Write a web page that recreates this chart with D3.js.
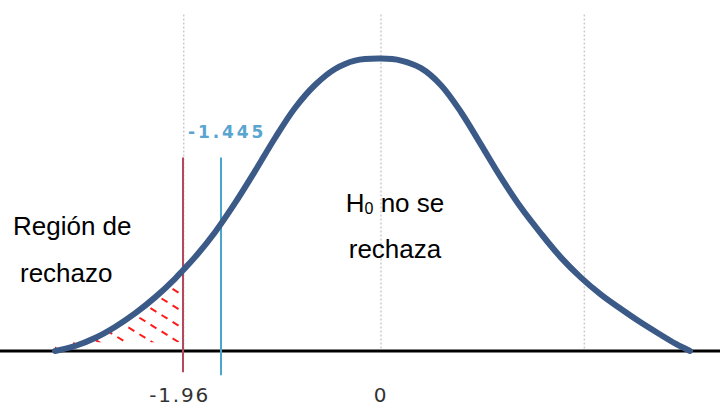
<!DOCTYPE html>
<html><head><meta charset="utf-8">
<script src="https://cdn.jsdelivr.net/npm/d3@7"></script>
<style>body{margin:0;background:#fff}</style>
</head><body><svg id="c" width="720" height="408"></svg>
<script>
// ---- data ----
const curveZ = [-3.200,-3.006,-2.813,-2.619,-2.425,-2.231,-2.038,-1.96,-1.797,-1.526,-1.319,-1.138,-0.957,-0.777,-0.596,-0.415,-0.235,0,
  0.201,0.401,0.602,0.803,1.003,1.204,1.404,1.605,1.806,2.006,2.207,2.408,2.608,2.809,2.959,3.100];
const curveDensity = [0,0.0068,0.0177,0.0328,0.0513,0.0732,0.0986,0.1103,0.1281,0.1622,0.2018,0.2455,0.2908,0.3317,0.3631,0.3850,0.3965,0.3992,
  0.3965,0.3861,0.3629,0.3260,0.2818,0.2367,0.1958,0.1603,0.1275,0.1002,0.0770,0.0573,0.0388,0.0218,0.0096,0];
const criticalValue = -1.96;
const observedValue = -1.445;
const observedLabel = "-1.445";
const gridValues = [-1.95, 0, 2.04];
const tickValues = [-1.96, 0];
const tickLabels = ["-1.96", "0"];
const rejectLabel = ["Región de", "rechazo"];
const acceptLabel = ["H", "0", " no se", "rechaza"];

// ---- scales ----
const W = 720, H = 408;
const x = d3.scaleLinear().domain([-3.2, -1.96, -1.445, 0, 3.1]).range([55, 183, 221, 381, 690]);
const y = d3.scaleLinear().domain([0, 0.4]).range([351, 58]);

const svg = d3.select("#c");
const pts = curveZ.map((z, i) => ({z, d: curveDensity[i]}));

// gridlines
svg.append("g").selectAll("line").data(gridValues).join("line")
  .attr("x1", d => x(d)).attr("x2", d => x(d))
  .attr("y1", y(0.4595)).attr("y2", y(0))
  .attr("stroke", "#cccccc").attr("stroke-width", 1.5).attr("stroke-dasharray", "2,2");

// hatched rejection region
const tail = pts.filter(p => p.z <= criticalValue + 1e-9);
const area = d3.area().x(p => x(p.z)).y0(y(0.012)).y1(p => y(p.d)).curve(d3.curveCatmullRom.alpha(0.5));
svg.append("clipPath").attr("id", "tailclip").append("path").attr("d", area(tail));
const hg = svg.append("g").attr("clip-path", "url(#tailclip)");
const slope = 0.62, step = 14 / Math.cos(Math.atan(slope));
const cMin = 240 - slope * 200, cMax = 360 - slope * 40;
hg.selectAll("line").data(d3.range(cMin, cMax, step)).join("line")
  .attr("x1", 40).attr("y1", c => c + slope * 40)
  .attr("x2", 200).attr("y2", c => c + slope * 200)
  .attr("stroke", "#ff1a1a").attr("stroke-width", 2).attr("stroke-dasharray", "7,6");

// baseline
svg.append("line").attr("x1", 0).attr("x2", W).attr("y1", y(0)).attr("y2", y(0))
  .attr("stroke", "#000").attr("stroke-width", 3);

// critical and observed lines
svg.append("line").attr("x1", x(criticalValue)).attr("x2", x(criticalValue))
  .attr("y1", y(0.264)).attr("y2", y(-0.029))
  .attr("stroke", "#b4485c").attr("stroke-width", 2);
svg.append("line").attr("x1", x(observedValue)).attr("x2", x(observedValue))
  .attr("y1", y(0.264)).attr("y2", y(-0.033))
  .attr("stroke", "#4aa6cc").attr("stroke-width", 2);

// curve
const line = d3.line().x(p => x(p.z)).y(p => y(p.d)).curve(d3.curveCatmullRom.alpha(0.5));
svg.append("path").attr("d", line(pts)).attr("fill", "none")
  .attr("stroke", "#3b5a88").attr("stroke-width", 6).attr("stroke-linecap", "round");

// observed label
svg.append("text").attr("x", x(observedValue) - 33).attr("y", 138)
  .attr("font-family", "DejaVu Sans").attr("font-weight", "bold").attr("font-size", 17)
  .attr("letter-spacing", 2.9).attr("fill", "#5aa5d0").text(observedLabel);

// tick labels
svg.append("g").selectAll("text").data(tickValues).join("text")
  .attr("x", d => x(d)).attr("y", 402)
  .attr("text-anchor", (d, i) => i === 0 ? "end" : "middle")
  .attr("dx", (d, i) => i === 0 ? 27 : 0)
  .attr("font-family", "DejaVu Sans").attr("font-size", 20).attr("letter-spacing", 1.8)
  .attr("fill", "#333").text((d, i) => tickLabels[i]);

// region labels
const tf = "Liberation Sans, Arial, sans-serif";
svg.append("text").attr("x", 13).attr("y", 235).attr("font-family", tf).attr("font-size", 26)
  .attr("fill", "#000").text(rejectLabel[0]);
svg.append("text").attr("x", 20).attr("y", 282).attr("font-family", tf).attr("font-size", 26)
  .attr("fill", "#000").text(rejectLabel[1]);
const h0 = svg.append("text").attr("x", 395).attr("y", 212).attr("text-anchor", "middle")
  .attr("font-family", tf).attr("font-size", 26).attr("fill", "#000");
h0.append("tspan").text(acceptLabel[0]);
h0.append("tspan").attr("font-size", 16).attr("dy", 2).text(acceptLabel[1]);
h0.append("tspan").attr("dy", -2).text(acceptLabel[2]);
svg.append("text").attr("x", 395).attr("y", 258).attr("text-anchor", "middle")
  .attr("font-family", tf).attr("font-size", 26).attr("fill", "#000").text(acceptLabel[3]);
</script></body></html>
